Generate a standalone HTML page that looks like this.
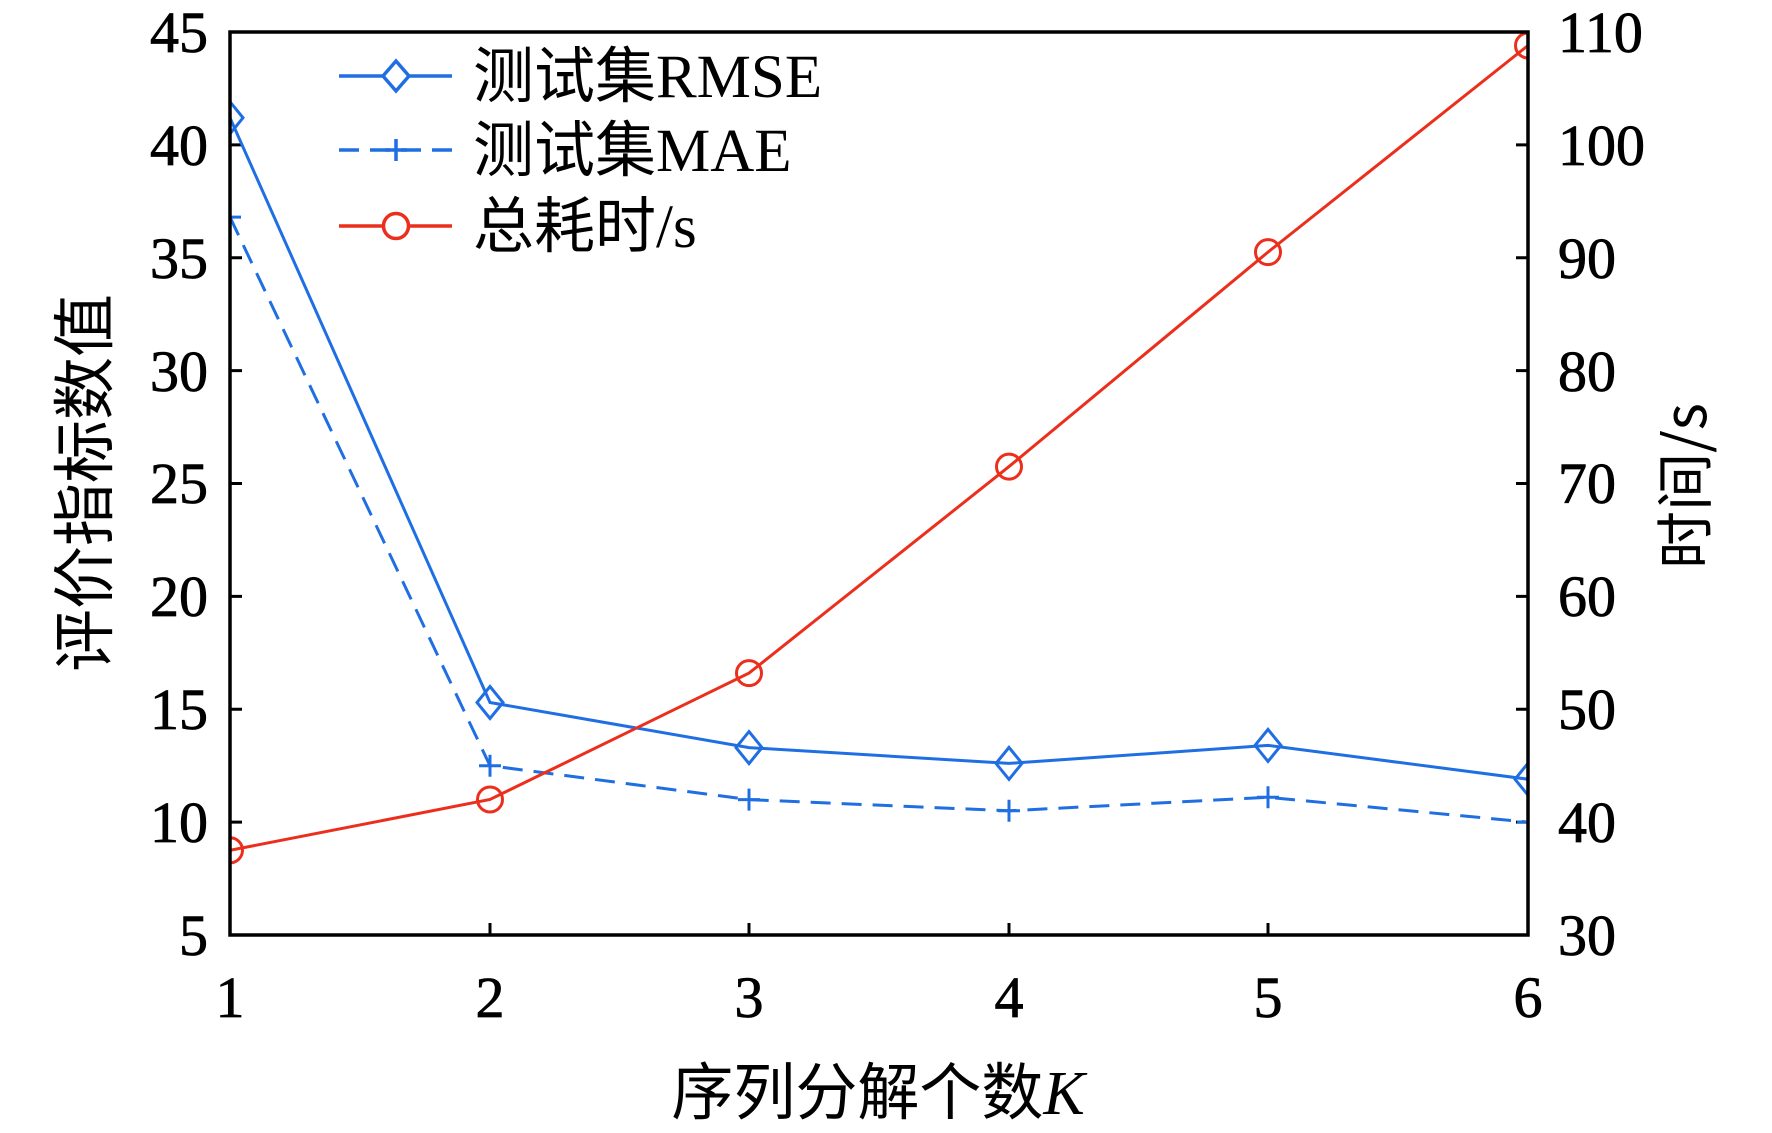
<!DOCTYPE html>
<html><head><meta charset="utf-8"><style>html,body{margin:0;padding:0;background:#fff}svg{display:block}</style></head><body>
<svg width="1772" height="1133" viewBox="0 0 1772 1133" xmlns="http://www.w3.org/2000/svg" font-family="'Liberation Serif','Noto Serif CJK SC',serif">
<defs>
<clipPath id="c"><rect x="230" y="32" width="1298" height="903"/></clipPath>
</defs>
<g fill="#000" font-size="58" stroke="#000" stroke-width="0.8">
<g text-anchor="end">
<text x="208" y="955">5</text><text x="208" y="842">10</text><text x="208" y="729">15</text><text x="208" y="616">20</text><text x="208" y="503">25</text><text x="208" y="391">30</text><text x="208" y="278">35</text><text x="208" y="165">40</text><text x="208" y="52">45</text>
</g>
<g text-anchor="start">
<text x="1558" y="955">30</text><text x="1558" y="842">40</text><text x="1558" y="729">50</text><text x="1558" y="616">60</text><text x="1558" y="503">70</text><text x="1558" y="391">80</text><text x="1558" y="278">90</text><text x="1558" y="165">100</text><text x="1558" y="52">110</text>
</g>
<g text-anchor="middle">
<text x="230" y="1017">1</text><text x="490" y="1017">2</text><text x="749" y="1017">3</text><text x="1009" y="1017">4</text><text x="1268" y="1017">5</text><text x="1528" y="1017">6</text>
</g>
</g>
<g fill="#000">
<text x="878" y="1114" text-anchor="middle" font-size="62" font-family="'Liberation Serif','Noto Sans CJK SC',serif">序列分解个数<tspan font-style="italic">K</tspan></text>
<text transform="translate(107,483) rotate(-90)" text-anchor="middle" font-size="63" font-family="'Noto Sans CJK SC',sans-serif">评价指标数值</text>
<text transform="translate(1706,486) rotate(-90)" text-anchor="middle" font-size="58" font-family="'Noto Sans CJK SC',sans-serif">时间/s</text>
</g>
<g stroke="#000" stroke-width="3">
<path d="M230 822.1h12M230 709.3h12M230 596.4h12M230 483.5h12M230 370.6h12M230 257.8h12M230 144.9h12"/>
<path d="M1528 822.1h-12M1528 709.3h-12M1528 596.4h-12M1528 483.5h-12M1528 370.6h-12M1528 257.8h-12M1528 144.9h-12"/>
<path d="M490 935v-12M749 935v-12M1009 935v-12M1268 935v-12"/>
</g>
<g clip-path="url(#c)" fill="none" stroke-width="3">
<polyline stroke="#1f6fe3" points="230,117.8 490,702.5 749,747.6 1009,763.4 1268,745.4 1528,779.2"/>
<polyline stroke="#1f6fe3" stroke-dasharray="20,11" points="230,217.1 490,765.7 749,799.6 1009,810.8 1268,797.3 1528,822.1"/>
<polyline stroke="#ec2f1c" points="230,850.3 490,799.5 749,673.1 1009,466.6 1268,252.1 1528,45.5"/>
<g stroke="#1f6fe3">
<path d="M230 101.8l13 16-13 16-13-16z M490 686.5l13 16-13 16-13-16z M749 731.6l13 16-13 16-13-16z M1009 747.4l13 16-13 16-13-16z M1268 729.4l13 16-13 16-13-16z M1528 763.2l13 16-13 16-13-16z"/>
<path d="M219 217.1h22M230 206.1v22 M479 765.7h22M490 754.7v22 M738 799.6h22M749 788.6v22 M998 810.8h22M1009 799.8v22 M1257 797.3h22M1268 786.3v22 M1517 822.1h22M1528 811.1v22"/>
</g>
<g stroke="#ec2f1c">
<circle cx="230" cy="850.3" r="12.5"/><circle cx="490" cy="799.5" r="12.5"/><circle cx="749" cy="673.1" r="12.5"/><circle cx="1009" cy="466.6" r="12.5"/><circle cx="1268" cy="252.1" r="12.5"/><circle cx="1528" cy="45.5" r="12.5"/>
</g>
</g>
<rect x="230" y="32" width="1298" height="903" fill="none" stroke="#000" stroke-width="3.5"/>
<g fill="none" stroke-width="3.5">
<path d="M339 76h113" stroke="#1f6fe3"/>
<path d="M396 61l13 15-13 15-13-15z" stroke="#1f6fe3" fill="#fff"/>
<path d="M339 150h113" stroke="#1f6fe3" stroke-dasharray="20,11"/>
<path d="M385 150h22M396 139v22" stroke="#1f6fe3"/>
<path d="M339 226h113" stroke="#ec2f1c"/>
<circle cx="396" cy="226" r="12.5" stroke="#ec2f1c" fill="#fff"/>
</g>
<g font-size="61" fill="#000" font-family="'Liberation Serif','Noto Sans CJK SC',serif">
<text x="473" y="97">测试集RMSE</text>
<text x="473" y="171">测试集MAE</text>
<text x="473" y="247">总耗时/s</text>
</g>
</svg>
</body></html>
